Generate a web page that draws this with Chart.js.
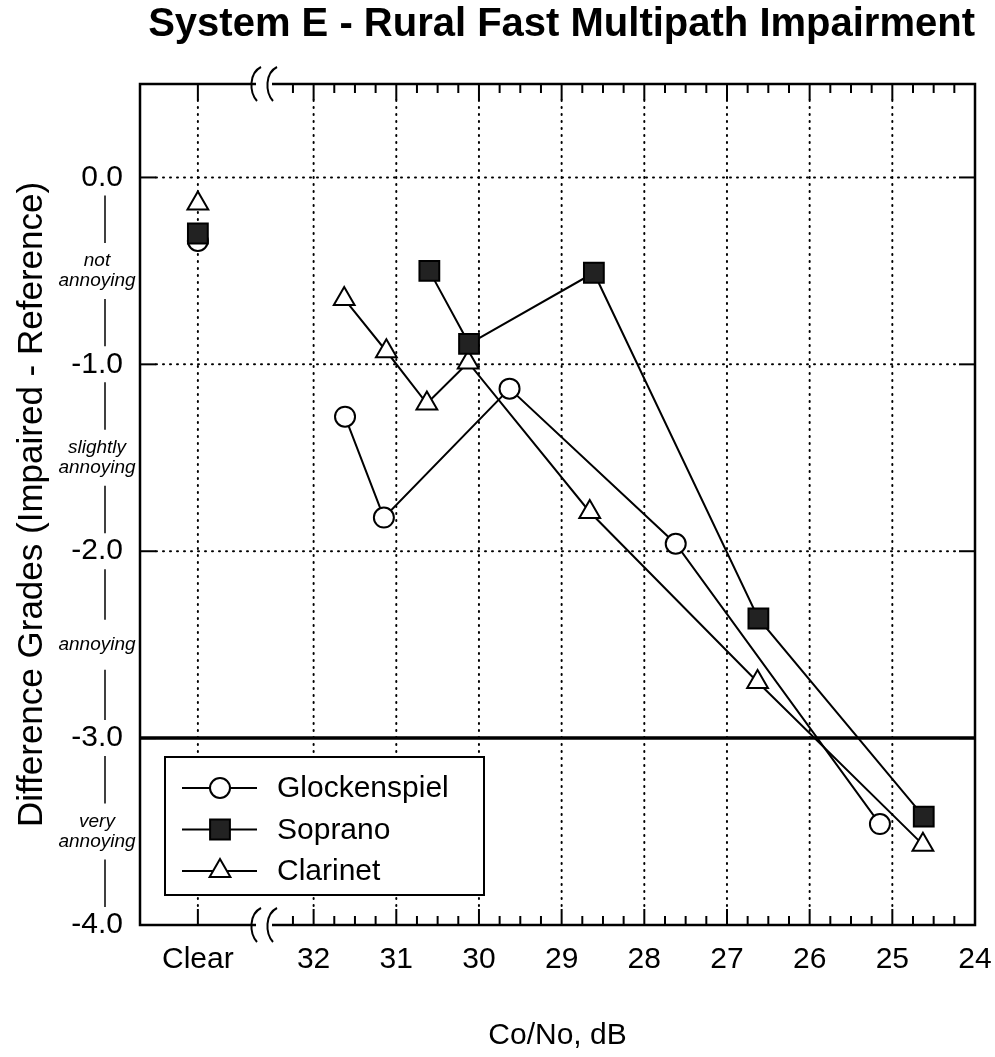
<!DOCTYPE html>
<html>
<head>
<meta charset="utf-8">
<title>System E - Rural Fast Multipath Impairment</title>
<script src="https://cdn.jsdelivr.net/npm/chart.js@4"></script>
<style>
  html, body { margin: 0; padding: 0; background: #fff; }
  #wrap { width: 995px; height: 1057px; }
</style>
</head>
<body>
<div id="wrap"><canvas id="mainChart" width="995" height="1057"></canvas></div>
<script>
// x axis: Co/No in dB, drawn reversed; "Clear" sits left of the axis break
const CLEAR_X = 33.4
const BREAK_X = 32.6
const X_TICK_VALUES = [CLEAR_X, 32, 31, 30, 29, 28, 27, 26, 25, 24]
const X_TICK_LABELS = ["Clear", "32", "31", "30", "29", "28", "27", "26", "25", "24"]

// y axis: difference grades
const Y_TICK_VALUES = [0, -1, -2, -3, -4]
const GRADE_VALUES = [-0.5, -1.5, -2.5, -3.5]
const GRADE_LABELS = [["not", "annoying"], ["slightly", "annoying"], ["annoying"], ["very", "annoying"]]

// series
const SERIES_NAMES = ["Glockenspiel", "Soprano", "Clarinet"]

const GLOCK_CLEAR = -0.34
const GLOCK_X = [31.62, 31.15, 29.63, 27.62, 25.15]
const GLOCK_Y = [-1.28, -1.82, -1.13, -1.96, -3.46]

const SOPRANO_CLEAR = -0.30
const SOPRANO_X = [30.6, 30.12, 28.61, 26.62, 24.62]
const SOPRANO_Y = [-0.50, -0.89, -0.51, -2.36, -3.42]

const CLARINET_CLEAR = -0.14
const CLARINET_X = [31.63, 31.12, 30.63, 30.13, 28.66, 26.63, 24.63]
const CLARINET_Y = [-0.65, -0.93, -1.21, -0.99, -1.79, -2.70, -3.57]

const FONT = "'Liberation Sans', Arial, Helvetica, sans-serif"

// clear point, then a gap, then the connected points
function buildPoints(clearY, xs, ys) {
    const pts = [{ x: CLEAR_X, y: clearY }, { x: CLEAR_X, y: null }]
    xs.forEach((x, i) => pts.push({ x: x, y: ys[i] }))
    return pts
}

function line(ctx, x1, y1, x2, y2) {
    ctx.beginPath()
    ctx.moveTo(x1, y1)
    ctx.lineTo(x2, y2)
    ctx.stroke()
}

/**
 * Frame: dotted grid, heavy -3 line, inward ticks, border, axis breaks
 */
const framePlugin = {
    id: "frame",
    beforeDatasetsDraw(chart) {
        const { ctx, chartArea: a, scales } = chart
        const x = scales.x, y = scales.y
        const MAJOR = 16, MINOR = 9
        ctx.save()
        ctx.strokeStyle = "#000"
        ctx.lineCap = "round"

        // dotted grid lines
        ctx.lineWidth = 2
        ctx.setLineDash([1, 6])
        X_TICK_VALUES.forEach(v => {
            const px = x.getPixelForValue(v)
            if (px < a.right - 2) line(ctx, px, a.top + MAJOR, px, a.bottom - MAJOR)
        })
        Y_TICK_VALUES.forEach(v => {
            if (v === -3 || v === -4) return
            const py = y.getPixelForValue(v)
            line(ctx, a.left + MAJOR, py, a.right - MAJOR, py)
        })
        ctx.setLineDash([])
        ctx.lineCap = "butt"

        // heavy line at -3.0
        ctx.lineWidth = 3.5
        const p3 = y.getPixelForValue(-3)
        line(ctx, a.left, p3, a.right, p3)

        // major ticks on the x axis (top and bottom, inward)
        ctx.lineWidth = 2
        X_TICK_VALUES.forEach(v => {
            const px = x.getPixelForValue(v)
            line(ctx, px, a.top, px, a.top + MAJOR)
            line(ctx, px, a.bottom, px, a.bottom - MAJOR)
        })
        // minor ticks every 0.25 dB right of the break
        for (let q = 129; q > 96; q--) {
            if (q % 4 === 0) continue
            const px = x.getPixelForValue(q / 4)
            line(ctx, px, a.top, px, a.top + MINOR)
            line(ctx, px, a.bottom, px, a.bottom - MINOR)
        }
        // y ticks left and right
        Y_TICK_VALUES.forEach(v => {
            const py = y.getPixelForValue(v)
            line(ctx, a.left, py, a.left + MAJOR, py)
            line(ctx, a.right, py, a.right - MAJOR, py)
        })

        // border
        ctx.lineWidth = 2.5
        ctx.strokeRect(a.left, a.top, a.right - a.left, a.bottom - a.top)

        // axis breaks
        const bx = x.getPixelForValue(BREAK_X)
        ;[a.top, a.bottom].forEach(ey => {
            ctx.fillStyle = "#fff"
            ctx.fillRect(bx - 8, ey - 3, 16, 6)
            ctx.lineWidth = 2
            ;[-8, 8].forEach(dx => {
                const cx = bx + dx
                ctx.beginPath()
                ctx.moveTo(cx + 5, ey - 17)
                ctx.bezierCurveTo(cx - 7, ey - 11, cx - 7, ey + 8, cx + 1, ey + 17)
                ctx.stroke()
            })
        })
        ctx.restore()
    }
}

/**
 * Grade words next to the y axis with the thin connecting rule
 */
const gradePlugin = {
    id: "grades",
    afterDraw(chart) {
        const { ctx, chartArea: a, scales } = chart
        const y = scales.y
        const labelX = a.left - 43
        const ruleX = a.left - 35
        ctx.save()
        ctx.fillStyle = "#000"
        ctx.strokeStyle = "#000"
        ctx.lineWidth = 1.5
        ctx.font = "italic 19px " + FONT
        ctx.textAlign = "center"
        ctx.textBaseline = "middle"
        GRADE_VALUES.forEach((v, i) => {
            const lines = GRADE_LABELS[i]
            const cy = y.getPixelForValue(v)
            lines.forEach((t, j) => {
                ctx.fillText(t, labelX, cy + (j - (lines.length - 1) / 2) * 20)
            })
            const upper = y.getPixelForValue(v + 0.5)
            const lower = y.getPixelForValue(v - 0.5)
            const gap = lines.length === 2 ? 28 : 25
            line(ctx, ruleX, upper + 18, ruleX, cy - gap)
            line(ctx, ruleX, cy + gap, ruleX, lower - 18)
        })
        ctx.restore()
    }
}

/**
 * Boxed legend in the lower left of the plot
 */
const legendPlugin = {
    id: "boxLegend",
    afterDatasetsDraw(chart) {
        const { ctx, chartArea: a } = chart
        const left = a.left + 25
        const top = a.bottom - 168
        const w = 319, h = 138
        ctx.save()
        ctx.fillStyle = "#fff"
        ctx.fillRect(left, top, w, h)
        ctx.strokeStyle = "#000"
        ctx.lineWidth = 2
        ctx.strokeRect(left, top, w, h)
        chart.data.datasets.forEach((ds, i) => {
            const ry = top + 31 + i * 41.5
            ctx.strokeStyle = "#000"
            ctx.lineWidth = 2
            line(ctx, left + 17, ry, left + 92, ry)
            ctx.fillStyle = ds.pointBackgroundColor
            ctx.strokeStyle = ds.pointBorderColor
            Chart.helpers.drawPoint(ctx, {
                pointStyle: ds.pointStyle,
                radius: ds.pointRadius,
                borderWidth: ds.pointBorderWidth,
                rotation: 0
            }, left + 55, ry)
            ctx.fillStyle = "#000"
            ctx.font = "30px " + FONT
            ctx.textAlign = "left"
            ctx.textBaseline = "middle"
            ctx.fillText(ds.label, left + 112, ry + 1)
        })
        ctx.restore()
    }
}

function makeDataset(name, clearY, xs, ys, style, radius, fill, order) {
    return {
        label: name,
        data: buildPoints(clearY, xs, ys),
        showLine: true,
        spanGaps: false,
        borderColor: "#000",
        borderWidth: 2,
        pointStyle: style,
        pointRadius: radius,
        pointHoverRadius: radius,
        pointBorderWidth: 2,
        pointBorderColor: "#000",
        pointBackgroundColor: fill,
        order: order
    }
}

Chart.defaults.font.family = FONT
Chart.defaults.color = "#000"

const ctx = document.getElementById("mainChart").getContext("2d")
window.myChart = new Chart(ctx, {
    type: "scatter",
    data: {
        datasets: [
            makeDataset(SERIES_NAMES[0], GLOCK_CLEAR, GLOCK_X, GLOCK_Y, "circle", 10, "#fff", 1),
            makeDataset(SERIES_NAMES[1], SOPRANO_CLEAR, SOPRANO_X, SOPRANO_Y, "rect", 14, "#222", 0),
            makeDataset(SERIES_NAMES[2], CLARINET_CLEAR, CLARINET_X, CLARINET_Y, "triangle", 12, "#fff", 2)
        ]
    },
    options: {
        responsive: false,
        animation: false,
        devicePixelRatio: 1,
        layout: { padding: { left: 0, right: 20, top: 0, bottom: 0 } },
        plugins: {
            legend: { display: false },
            tooltip: { enabled: false },
            title: {
                display: true,
                text: "System E - Rural Fast Multipath Impairment",
                align: "end",
                font: { size: 40, weight: "bold" },
                color: "#000",
                padding: { top: 1, bottom: 35 }
            }
        },
        scales: {
            x: {
                type: "linear",
                position: "bottom",
                reverse: true,
                min: 24,
                max: 34.1,
                afterBuildTicks: s => { s.ticks = X_TICK_VALUES.map(v => ({ value: v })) },
                afterFit: s => {
                    s.height = 132
                    s.paddingLeft = 0
                    s.paddingRight = 0
                },
                grid: { display: false, drawTicks: false },
                border: { display: false },
                ticks: {
                    autoSkip: false,
                    maxRotation: 0,
                    padding: 17,
                    font: { size: 30 },
                    callback: (v, i) => X_TICK_LABELS[i]
                },
                title: {
                    display: true,
                    text: "Co/No, dB",
                    font: { size: 30 },
                    padding: { top: 0, bottom: 3 }
                }
            },
            y: {
                type: "linear",
                position: "left",
                min: -4,
                max: 0.5,
                afterBuildTicks: s => { s.ticks = Y_TICK_VALUES.map(v => ({ value: v })) },
                afterFit: s => {
                    s.width = 140
                    s.paddingTop = 0
                    s.paddingBottom = 0
                },
                grid: { display: false, drawTicks: false },
                border: { display: false },
                ticks: {
                    padding: 17,
                    font: { size: 30 },
                    callback: v => v.toFixed(1)
                },
                title: {
                    display: true,
                    text: "Difference Grades (Impaired - Reference)",
                    font: { size: 35 },
                    padding: { top: 11, bottom: 0 }
                }
            }
        }
    },
    plugins: [framePlugin, gradePlugin, legendPlugin]
})
</script>
</body>
</html>
